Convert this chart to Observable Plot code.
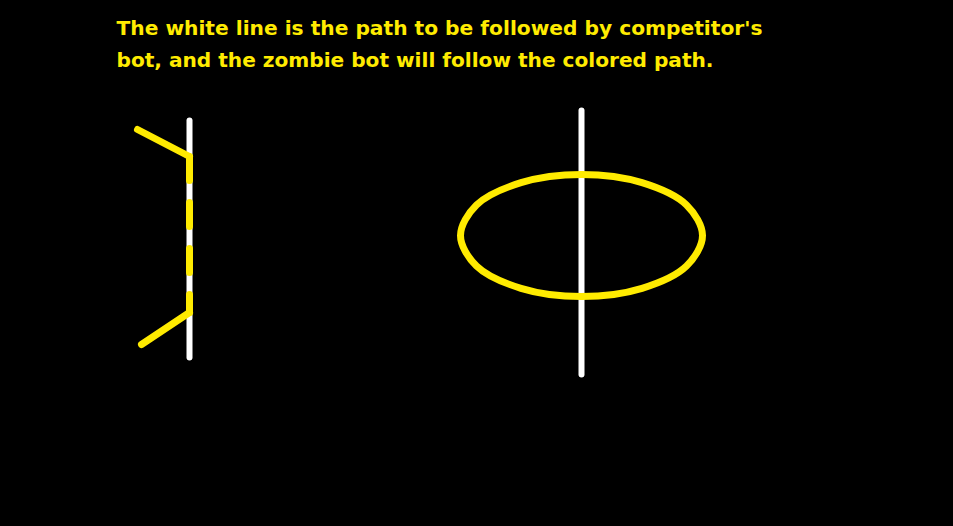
<!DOCTYPE html>
<html><head><meta charset="utf-8">
<script src="https://cdn.jsdelivr.net/npm/d3@7"></script>
<script src="https://cdn.jsdelivr.net/npm/@observablehq/plot@0.6"></script>
<style>html,body{margin:0;padding:0;background:#000;overflow:hidden}</style>
</head><body><div id="chart"></div>
<script>
const titleLines = ["The white line is the path to be followed by competitor's", "bot, and the zombie bot will follow the colored path."];
const titleY = [28, 60];
const titleWidths = [646, 597];
const whiteLines = [
  {id: "left", pts: [[189,120],[189,357]]},
  {id: "right", pts: [[581,110],[581,374]]}
];
const yellowSolid = [
  {id: "top", pts: [[137,129],[189,156]]},
  {id: "bottom", pts: [[189,312],[141,344]]}
];
const yellowDashed = [[189,156],[189,312]];
// ellipse outline points (closed curve through them)
const ellipsePts = [[702,235],[686,265.5],[641.5,287.8],[581,296],[520.5,287.8],[476,265.5],[460,235],[476,204.5],[520.5,182.2],[581,174],[641.5,182.2],[686,204.5]];

const W = 953, H = 526;
const toRows = (arr, key) => arr.flatMap(d => d.pts.map(p => ({x: p[0], y: p[1], id: d[key]})));
const plot = Plot.plot({
  width: W, height: H, margin: 0,
  x: {domain: [0, W], axis: null},
  y: {domain: [0, H], reverse: true, axis: null},
  style: {background: "#000"},
  marks: [
    Plot.line(toRows(whiteLines, "id"), {x: "x", y: "y", z: "id", stroke: "#fff", strokeWidth: 6, strokeLinecap: "round"}),
    Plot.line(yellowDashed.map(p => ({x: p[0], y: p[1]})), {x: "x", y: "y", stroke: "#ffeb00", strokeWidth: 7, strokeDasharray: "24 22"}),
    Plot.line(toRows(yellowSolid, "id"), {x: "x", y: "y", z: "id", stroke: "#ffeb00", strokeWidth: 7, strokeLinecap: "round"}),
    Plot.line(ellipsePts.map(p => ({x: p[0], y: p[1]})), {x: "x", y: "y", stroke: "#ffeb00", strokeWidth: 7, curve: "catmull-rom-closed"}),
    Plot.text(titleLines.map((t, i) => ({t, x: 116, y: titleY[i]})), {x: "x", y: "y", text: "t", textAnchor: "start", fill: "#ffeb00", fontSize: 19, fontWeight: "bold", fontFamily: "DejaVu Sans, sans-serif"})
  ]
});
d3.select(plot).selectAll("text").filter(function(){return titleLines.includes(this.textContent);})
  .each(function(){ const i = titleLines.indexOf(this.textContent); this.setAttribute("textLength", titleWidths[i]); this.setAttribute("lengthAdjust", "spacingAndGlyphs"); });
document.getElementById("chart").appendChild(plot);
</script></body></html>
